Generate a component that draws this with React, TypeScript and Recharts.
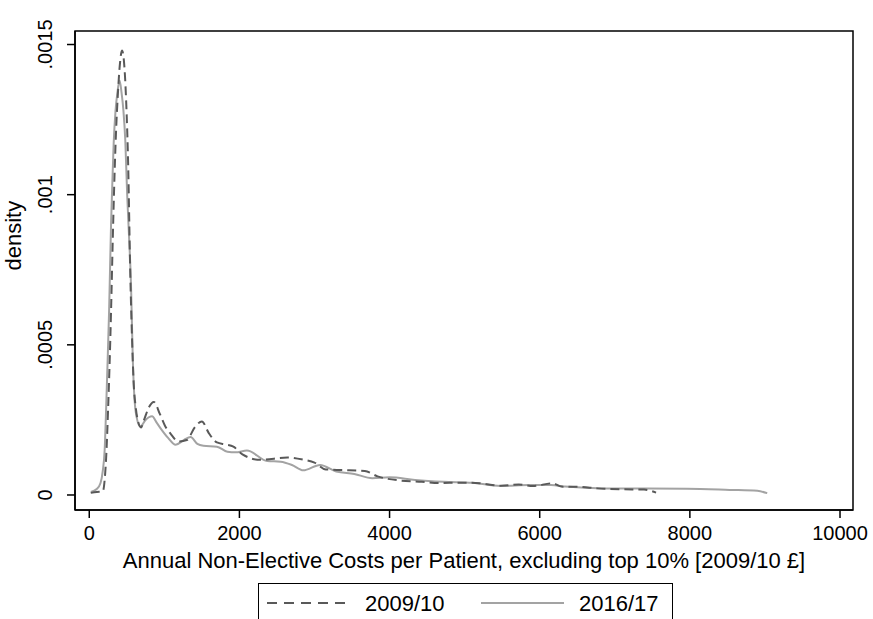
import React from 'react';
import { LineChart, Line, XAxis, YAxis, ReferenceArea } from 'recharts';

// kernel density estimates
const costs0910 = [
  20, 100, 180, 205, 230, 250, 270, 290, 310, 330, 355, 380, 410, 436, 460, 490,
  520, 545, 570, 590, 620, 650, 690, 730, 790, 860, 940, 1010, 1080, 1190, 1300,
  1410, 1500, 1590, 1700, 1820, 1920, 2040, 2280, 2640, 2860, 3000, 3150, 3385,
  3670, 3840, 4150, 4430, 4670, 4960, 5200, 5480, 5720, 5910, 6170, 6290, 6530,
  6770, 7100, 7390, 7550,
];
const density0910 = [
  0.000007, 0.00001, 0.000012, 0.00005, 0.00015, 0.00028, 0.00043, 0.00061,
  0.00082, 0.00101, 0.0012, 0.00133, 0.00144, 0.00148, 0.00145, 0.00132,
  0.00108, 0.00075, 0.00052, 0.00038, 0.00029, 0.000245, 0.000225, 0.00025,
  0.00029, 0.00031, 0.00027, 0.00023, 0.000205, 0.000178, 0.000183, 0.000227,
  0.000245, 0.000207, 0.000175, 0.000168, 0.000161, 0.000135, 0.000117,
  0.000125, 0.000117, 0.000108, 0.000085, 0.000083, 0.00008, 0.000062,
  0.000048, 0.000044, 0.00004, 0.000041, 0.000039, 0.000031, 0.000035,
  0.00003, 0.000039, 0.000028, 0.000027, 0.000022, 0.000019, 0.000018,
  0.000008,
];

const costs1617 = [
  20, 100, 150, 180, 205, 225, 245, 265, 290, 305, 325, 350, 375, 404, 430, 455,
  480, 505, 530, 556, 580, 600, 630, 680, 750, 836, 900, 950, 1050, 1150, 1260,
  1350, 1440, 1520, 1700, 1840, 1950, 2100, 2370, 2550, 2700, 2850, 3075, 3290,
  3530, 3770, 4000, 4340, 4720, 5100, 5480, 5860, 6150, 6340, 6860, 7430, 7960,
  8530, 8900, 9030,
];
const density1617 = [
  0.00001, 0.00002, 0.00004, 0.00008, 0.00015, 0.00029, 0.00045, 0.00062,
  0.0009, 0.00102, 0.00117, 0.00128, 0.00134, 0.00138, 0.00134, 0.00128,
  0.00118, 0.001, 0.00086, 0.0007, 0.00045, 0.00033, 0.00026, 0.000228,
  0.00025, 0.000262, 0.00024, 0.000222, 0.00019, 0.000167, 0.000183, 0.000193,
  0.00017, 0.000164, 0.000161, 0.000144, 0.000142, 0.000148, 0.000113,
  0.000111, 0.0001, 0.000082, 0.0001, 0.000078, 0.00007, 0.000056, 0.000059,
  0.00005, 0.000044, 0.000041, 0.00003, 0.000033, 0.000033, 0.000028,
  0.000022, 0.000022, 0.000021, 0.000017, 0.000014, 0.000006,
];

const xTicks = [0, 2000, 4000, 6000, 8000, 10000];
const yTicks = [0, 0.0005, 0.001, 0.0015];
const yTickLabels = ['0', '.0005', '.001', '.0015'];
const xDomain = [-190, 10173];
const yDomain = [-0.00005, 0.001545];

const series0910 = costs0910.map((x, i) => ({ x, y: density0910[i] }));
const series1617 = costs1617.map((x, i) => ({ x, y: density1617[i] }));

const FONT = '"Liberation Sans", Arial, sans-serif';
const DARK = '#595959';
const LIGHT = '#a3a3a3';

const XTick = (props: any) => {
  const { x, y, payload } = props;
  return (
    <text x={x} y={y + 20} textAnchor="middle" fontFamily={FONT} fontSize={20} fill="#000">
      {payload.value}
    </text>
  );
};

const YTick = (props: any) => {
  const { x, y, payload } = props;
  const i = yTicks.indexOf(payload.value);
  const bx = x - 13;
  return (
    <text
      x={bx}
      y={y}
      textAnchor="middle"
      transform={`rotate(-90 ${bx} ${y})`}
      fontFamily={FONT}
      fontSize={20}
      fill="#000"
    >
      {i >= 0 ? yTickLabels[i] : payload.value}
    </text>
  );
};

const LegendBox = () => (
  <div
    style={{
      position: 'absolute',
      left: 258,
      top: 583,
      width: 415,
      height: 36,
      borderTop: '1.5px solid #000',
      borderLeft: '1.5px solid #000',
      borderRight: '1.5px solid #000',
      boxSizing: 'border-box',
      background: '#fff',
    }}
  >
    <svg width={412} height={35} style={{ display: 'block' }}>
      <line x1={8} x2={91} y1={19} y2={19} stroke={DARK} strokeWidth={2} strokeDasharray="10 7" />
      <text x={106} y={27} fontFamily={FONT} fontSize={22} fill="#000">
        2009/10
      </text>
      <line x1={222} x2={305} y1={19} y2={19} stroke={LIGHT} strokeWidth={2} />
      <text x={320} y={27} fontFamily={FONT} fontSize={22} fill="#000">
        2016/17
      </text>
    </svg>
  </div>
);

export default function App() {
  return (
    <div
      style={{
        position: 'absolute',
        left: 0,
        top: 0,
        width: 873,
        height: 619,
        overflow: 'hidden',
        background: '#fff',
      }}
    >
      <LineChart
        width={873}
        height={619}
        margin={{ top: 31, right: 20, bottom: 0, left: 0 }}
      >
        <XAxis
          dataKey="x"
          type="number"
          domain={xDomain}
          ticks={xTicks}
          allowDataOverflow
          tickSize={8}
          tick={<XTick />}
          height={109}
          stroke="#000"
          strokeWidth={1.5}
          label={{
            value: 'Annual Non-Elective Costs per Patient, excluding top 10% [2009/10 £]',
            position: 'insideTop',
            offset: 42,
            fontFamily: FONT,
            fontSize: 22,
            fill: '#000',
          }}
        />
        <YAxis
          type="number"
          domain={yDomain}
          ticks={yTicks}
          allowDataOverflow
          tickSize={8}
          tick={<YTick />}
          width={75}
          stroke="#000"
          strokeWidth={1.5}
          label={{
            value: 'density',
            angle: -90,
            position: 'insideLeft',
            offset: 13,
            fontFamily: FONT,
            fontSize: 22,
            fill: '#000',
          }}
        />
        <ReferenceArea
          x1={xDomain[0]}
          x2={xDomain[1]}
          y1={yDomain[0]}
          y2={yDomain[1]}
          fill="none"
          stroke="#000"
          strokeWidth={1.5}
          ifOverflow="visible"
        />
        <Line
          data={series1617}
          dataKey="y"
          type="monotone"
          stroke={LIGHT}
          strokeWidth={2}
          dot={false}
          isAnimationActive={false}
        />
        <Line
          data={series0910}
          dataKey="y"
          type="monotone"
          stroke={DARK}
          strokeWidth={2}
          strokeDasharray="9 5"
          dot={false}
          isAnimationActive={false}
        />
      </LineChart>
      <LegendBox />
    </div>
  );
}
